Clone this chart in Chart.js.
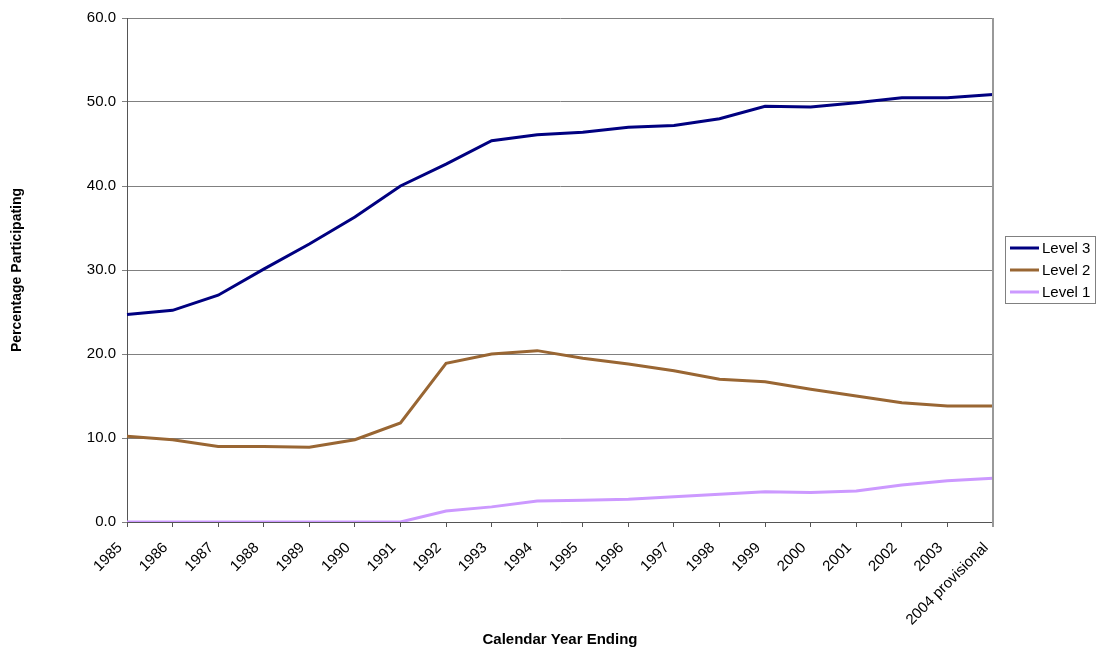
<!DOCTYPE html>
<html lang="en">
<head>
    <meta charset="UTF-8">
    <title>Percentage Participating by Level</title>
    <style>
        html, body { margin: 0; padding: 0; background: #ffffff; }
        #chart { display: block; }
    </style>
</head>
<body>
<canvas id="chart" width="1096" height="652"></canvas>

<script src="https://cdn.jsdelivr.net/npm/chart.js"></script>
<script>
    // Data
    const years = ['1985', '1986', '1987', '1988', '1989', '1990', '1991', '1992', '1993', '1994',
                   '1995', '1996', '1997', '1998', '1999', '2000', '2001', '2002', '2003', '2004 provisional'];
    const level3 = [24.7, 25.2, 27.0, 30.1, 33.1, 36.3, 40.0, 42.6, 45.4, 46.1,
                    46.4, 47.0, 47.2, 48.0, 49.5, 49.4, 49.9, 50.5, 50.5, 50.9];
    const level2 = [10.2, 9.8, 9.0, 9.0, 8.9, 9.8, 11.8, 18.9, 20.0, 20.4,
                    19.5, 18.8, 18.0, 17.0, 16.7, 15.8, 15.0, 14.2, 13.8, 13.8];
    const level1 = [0.0, 0.0, 0.0, 0.0, 0.0, 0.0, 0.0, 1.3, 1.8, 2.5,
                    2.6, 2.7, 3.0, 3.3, 3.6, 3.5, 3.7, 4.4, 4.9, 5.2];
    const yTicks = [0, 10, 20, 30, 40, 50, 60];

    const FONT = 'Arial, "Liberation Sans", sans-serif';

    // Right-hand frame line and the boxed legend
    const frameAndLegend = {
        id: 'frameAndLegend',
        afterDraw(chart) {
            const ctx = chart.ctx;
            const area = chart.chartArea;
            ctx.save();
            ctx.strokeStyle = '#999999';
            ctx.lineWidth = 2;
            ctx.beginPath();
            ctx.moveTo(area.right, area.top);
            ctx.lineTo(area.right, area.bottom + 5);
            ctx.stroke();

            // legend box
            const bx = 1005.5, by = 236.5, bw = 90, bh = 67;
            ctx.lineWidth = 1;
            ctx.strokeStyle = '#808080';
            ctx.fillStyle = '#ffffff';
            ctx.fillRect(bx, by, bw, bh);
            ctx.strokeRect(bx, by, bw, bh);

            ctx.font = '15px ' + FONT;
            ctx.textBaseline = 'middle';
            ctx.textAlign = 'left';
            chart.data.datasets.forEach((ds, i) => {
                const y = 248 + i * 22;
                ctx.strokeStyle = ds.borderColor;
                ctx.lineWidth = 3;
                ctx.beginPath();
                ctx.moveTo(1010, y);
                ctx.lineTo(1039, y);
                ctx.stroke();
                ctx.fillStyle = '#000000';
                ctx.fillText(ds.label, 1042, y + 1);
            });
            ctx.restore();
        }
    };

    const ctx = document.getElementById('chart').getContext('2d');
    const chart = new Chart(ctx, {
        type: 'line',
        data: {
            labels: years,
            datasets: [
                { label: 'Level 3', data: level3, borderColor: '#000080', borderWidth: 3 },
                { label: 'Level 2', data: level2, borderColor: '#996633', borderWidth: 3 },
                { label: 'Level 1', data: level1, borderColor: '#CC99FF', borderWidth: 3 }
            ]
        },
        options: {
            responsive: false,
            animation: false,
            layout: { padding: { top: 18, right: 103, left: 0, bottom: 0 } },
            elements: {
                point: { radius: 0 },
                line: { tension: 0, fill: false }
            },
            plugins: {
                legend: { display: false },
                tooltip: { enabled: false }
            },
            scales: {
                x: {
                    offset: false,
                    grid: { drawOnChartArea: false, drawTicks: true, tickLength: 5, color: '#555555' },
                    border: { color: '#555555', width: 1 },
                    ticks: {
                        autoSkip: false,
                        minRotation: 45,
                        maxRotation: 45,
                        padding: 12,
                        labelOffset: -7,
                        color: '#000000',
                        font: { family: FONT, size: 15 }
                    },
                    title: {
                        display: true,
                        text: 'Calendar Year Ending',
                        color: '#000000',
                        font: { family: FONT, size: 15, weight: 'bold' },
                        padding: { top: 0, bottom: 3 }
                    },
                    afterFit(scale) {
                        scale.height = 130;
                        scale.paddingLeft = 0;
                        scale.paddingRight = 0;
                    }
                },
                y: {
                    min: 0,
                    max: 60,
                    afterBuildTicks(scale) {
                        scale.ticks = yTicks.map(v => ({ value: v }));
                    },
                    grid: { color: '#808080', drawTicks: true, tickLength: 5 },
                    border: { color: '#555555', width: 1 },
                    ticks: {
                        padding: 6,
                        color: '#000000',
                        font: { family: FONT, size: 15 },
                        callback: v => Number(v).toFixed(1)
                    },
                    title: {
                        display: true,
                        text: 'Percentage Participating',
                        color: '#000000',
                        font: { family: FONT, size: 14, weight: 'bold' },
                        padding: { top: 9, bottom: 0 }
                    },
                    afterFit(scale) {
                        scale.width = 127;
                        scale.paddingTop = 0;
                        scale.paddingBottom = 0;
                    }
                }
            }
        },
        plugins: [frameAndLegend]
    });
</script>
</body>
</html>
